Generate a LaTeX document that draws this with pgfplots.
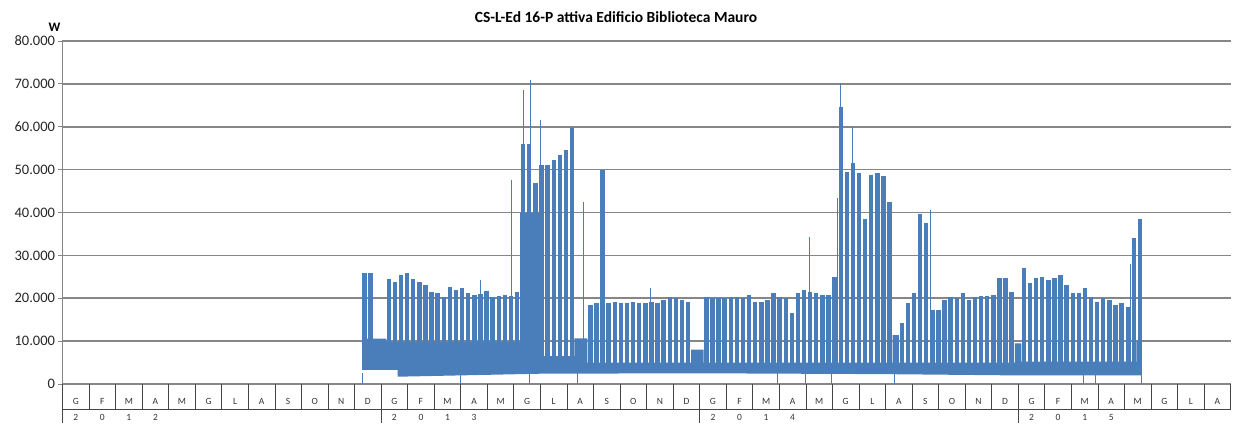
\documentclass[border=0pt]{standalone}
\usepackage{fontspec}
\setmainfont{Carlito}
\usepackage{pgfplots}
\pgfplotsset{compat=1.18}
\usepackage{pgfplotstable}

\definecolor{sblue}{RGB}{74,126,187}
\definecolor{gridgray}{RGB}{134,134,134}
\definecolor{sepgray}{RGB}{70,70,70}

% weekly working-day peaks (x in months from Jan 2012, W)
\pgfplotstableread{
x p
11.372 25800
11.602 25800
12.292 24400
12.522 23900
12.752 25400
12.982 26000
13.212 24400
13.442 23900
13.672 23100
13.902 21500
14.132 21200
14.362 20400
14.592 22700
14.822 21900
15.052 22300
15.282 21200
15.512 20800
15.742 21000
15.972 21800
16.202 20400
16.432 20500
16.662 20800
16.892 20600
17.122 21500
17.352 56000
17.582 56000
17.812 46800
18.042 51100
18.272 51100
18.502 52300
18.732 53400
18.962 54500
19.192 59600
19.882 18400
20.112 18800
20.342 49900
20.572 19000
20.802 19200
21.032 18800
21.262 19000
21.492 19200
21.722 18800
21.952 19000
22.182 19200
22.412 19000
22.642 19600
22.872 20400
23.102 20000
23.332 19600
23.562 19200
24.252 20400
24.482 20000
24.712 20000
24.942 20000
25.172 20400
25.402 20400
25.632 20000
25.862 20700
26.092 19200
26.322 19200
26.552 19600
26.782 21200
27.012 20400
27.242 20000
27.472 16500
27.702 21200
27.932 21900
28.162 21500
28.392 21200
28.622 20800
28.852 20800
29.082 25000
29.312 64700
29.542 49500
29.772 51500
30.002 49100
30.232 38600
30.462 48800
30.692 49100
30.922 48400
31.152 42500
31.612 14200
31.842 18800
32.072 21200
32.302 39700
32.532 37500
32.762 17300
32.992 17300
33.222 19600
33.452 20400
33.682 20000
33.912 21200
34.142 19600
34.372 20400
34.602 20600
34.832 20600
35.062 20800
35.292 24700
35.522 24700
35.752 21500
36.212 27000
36.442 23500
36.672 24700
36.902 25000
37.132 24300
37.362 24700
37.592 25400
37.822 23100
38.052 21200
38.282 21200
38.512 22300
38.742 20400
38.972 19200
39.202 20000
39.432 19600
39.662 18400
39.892 19000
40.122 18000
40.352 34000
40.582 38600
}\blocks

% single readings that stand above the weekly blocks
\pgfplotstableread{
x p
15.73 24300
16.92 47600
17.26 34400
17.36 68600
17.61 70900
18.01 61600
19.18 60000
19.62 42500
22.13 22400
28.13 34400
29.20 43300
29.32 70100
29.76 60000
32.71 40600
40.21 28100
}\spikes

% night / weekend band: upper edge then lower edge back
\pgfplotstableread{
x y
11.29 10600
12.20 10600
12.20 9800
17.24 9800
17.24 40000
17.95 40000
17.95 6500
19.28 6500
19.28 10650
19.77 10650
19.77 5000
23.68 5000
23.68 8000
24.15 8000
24.15 5000
31.27 5000
31.27 11400
31.50 11400
31.50 5000
35.87 5000
35.87 9500
36.12 9500
36.12 5200
40.45 5200
40.45 10000
40.66 10000
40.66 2000
36.00 2000
31.00 2300
24.00 2500
18.00 2400
12.62 1700
12.62 3300
11.29 3300
}\band

\begin{document}
\begin{tikzpicture}
\useasboundingbox (-62.5pt,-39pt) rectangle (1170.5pt,384pt);
\begin{axis}[
    at={(0pt,0pt)}, anchor=south west,
    scale only axis, width=1168.2pt, height=343pt,
    xmin=0, xmax=44, ymin=0, ymax=80000,
    axis lines=left,
    axis line style={-, draw=gridgray},
    x axis line style={line width=1.6pt},
    y axis line style={line width=0.8pt},
    xtick=\empty,
    ytick={0,10000,...,80000},
    scaled y ticks=false,
    ymajorgrids,
    grid style={draw=gridgray, line width=1.6pt},
    tick align=outside, major tick length=4pt,
    ytick style={draw=gridgray, line width=0.8pt},
    yticklabel style={font=\fontsize{14.5}{16}\selectfont, text=black!85},
    /pgf/number format/.cd, 1000 sep={.}, assume math mode=true,
]
\addplot[fill=sblue, draw=none] table[x=x, y=y] {\band};
\addplot[draw=none, mark=none,
    error bars/.cd, y dir=minus, y explicit, error mark=none,
    error bar style={draw=sblue, line width=4.4pt}]
    table[x=x, y=p, y error expr=\thisrow{p}-3500] {\blocks};
\addplot[draw=none, mark=none,
    error bars/.cd, y dir=minus, y explicit, error mark=none,
    error bar style={draw=sblue, line width=1pt}]
    table[x=x, y=p, y error expr=\thisrow{p}-3500] {\spikes};
\addplot[ycomb, draw=sblue, line width=0.8pt, mark=none] coordinates {
    (11.29,2500) (14.97,2500) (17.57,2500) (19.38,2500) (26.91,2500)
    (28.00,2500) (28.98,2500) (31.32,2500) (38.44,2500) (38.90,2500)
    (40.65,2500)
};
\end{axis}

% title and unit
\node[font=\bfseries\fontsize{15.5}{18}\selectfont, anchor=base] at (553.5pt,361.3pt)
    {CS-L-Ed 16-P attiva Edificio Biblioteca Mauro};
\node[font=\bfseries\fontsize{13}{15}\selectfont, anchor=base] at (-8pt,352pt) {W};

% two-level category axis: months and years
\foreach \i in {0,...,44}
    \draw[sepgray, line width=0.8pt] ({\i*26.55pt},0pt) -- ({\i*26.55pt},-25pt);
\foreach \i in {0,12,24,36}
    \draw[sepgray, line width=0.8pt] ({\i*26.55pt},0pt) -- ({\i*26.55pt},-39pt);
\draw[sepgray, line width=0.8pt] (0pt,-25pt) -- (1168.2pt,-25pt);
\foreach \l [count=\i from 0] in {G,F,M,A,M,G,L,A,S,O,N,D,G,F,M,A,M,G,L,A,S,O,N,D,G,F,M,A,M,G,L,A,S,O,N,D,G,F,M,A,M,G,L,A}
    \node[font=\fontsize{9.5}{11}\selectfont, text=black!80, anchor=base] at ({(\i+0.5)*26.55pt},-20pt) {\l};
\foreach \d/\i in {2/0,0/1,1/2,2/3,2/12,0/13,1/14,3/15,2/24,0/25,1/26,4/27,2/36,0/37,1/38,5/39}
    \node[font=\fontsize{9.5}{11}\selectfont, text=black!80, anchor=base] at ({(\i+0.5)*26.55pt},-36pt) {\d};
\end{tikzpicture}
\end{document}
